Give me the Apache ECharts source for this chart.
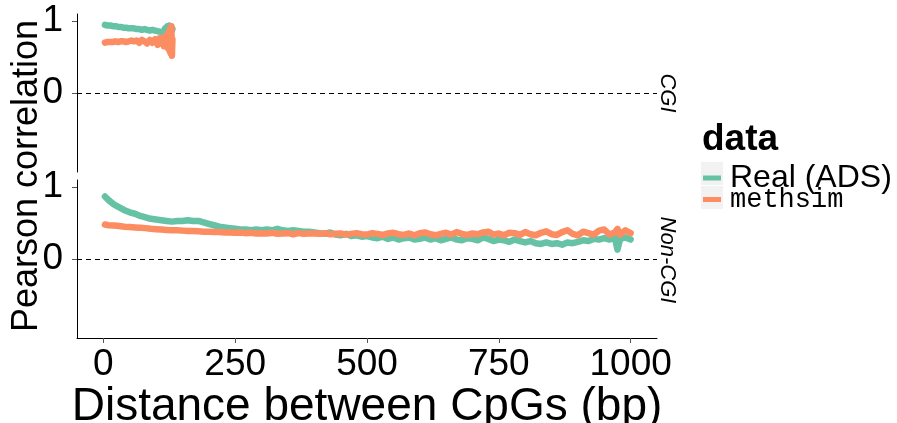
<!DOCTYPE html>
<html>
<head>
<meta charset="utf-8">
<script src="https://cdn.jsdelivr.net/npm/echarts@6/dist/echarts.min.js"></script>
<style>
html,body{margin:0;padding:0;background:#fff;}
#main{width:897px;height:423px;}
</style>
</head>
<body>
<div id="main"></div>
<script>
// CGI panel (top)
const cgiDist = [3,8,13,18,23,28,33,38,43,48,53,58,63,68,73,78,83,88,93,98,103,106,109,112,115,117,119,121,123,125,126,127,128,129,130,131];
const cgiReal = [0.95,0.94,0.94,0.93,0.93,0.92,0.92,0.91,0.91,0.90,0.90,0.90,0.89,0.89,0.88,0.89,0.88,0.87,0.88,0.87,0.86,0.88,0.85,0.87,0.84,0.90,0.86,0.93,0.88,0.94,0.90,0.93,0.88,0.92,0.87,0.89];
const cgiSim = [0.70,0.71,0.71,0.71,0.72,0.71,0.72,0.72,0.71,0.72,0.73,0.72,0.73,0.70,0.74,0.72,0.69,0.74,0.70,0.75,0.67,0.76,0.69,0.77,0.65,0.78,0.68,0.82,0.62,0.86,0.58,0.90,0.55,0.93,0.52,0.75];

// Non-CGI panel (bottom)
const nonDist = [3,10,20,30,40,50,60,70,80,90,100,110,120,130,140,150,160,170,180,190,200,210,220,230,240,250,260,270,280,290,300,310,320,330,340,350,360,370,380,390,400,410,420,430,440,450,460,470,480,490,500,510,520,530,540,550,560,570,580,590,600,610,620,630,640,650,660,670,680,690,700,710,720,730,740,750,760,770,780,790,800,810,820,830,840,850,860,870,880,890,900,910,920,930,940,950,960,970,975,980,990,1000];
const nonReal = [0.87,0.82,0.76,0.72,0.68,0.65,0.63,0.60,0.58,0.56,
    0.55,0.54,0.53,0.52,0.53,0.53,0.54,0.53,0.53,0.51,
    0.49,0.47,0.45,0.44,0.43,0.42,0.41,0.41,0.40,0.41,
    0.40,0.41,0.40,0.42,0.40,0.39,0.40,0.39,0.38,0.38,
    0.37,0.36,0.35,0.37,0.34,0.33,0.35,0.32,0.33,0.31,
    0.32,0.30,0.29,0.31,0.28,0.30,0.27,0.29,0.30,0.27,
    0.28,0.30,0.27,0.29,0.26,0.28,0.30,0.27,0.26,0.29,
    0.28,0.26,0.30,0.28,0.25,0.27,0.26,0.24,0.27,0.25,
    0.23,0.25,0.22,0.21,0.23,0.21,0.22,0.20,0.23,0.22,
    0.24,0.26,0.25,0.28,0.27,0.29,0.27,0.30,0.13,0.28,0.30,0.27];
const nonSim = [0.48,0.47,0.465,0.46,0.45,0.445,0.44,0.435,0.43,0.42,
    0.415,0.41,0.405,0.40,0.40,0.395,0.39,0.39,0.385,0.38,
    0.38,0.375,0.375,0.37,0.37,0.365,0.37,0.36,0.365,0.355,
    0.36,0.355,0.365,0.35,0.355,0.36,0.345,0.36,0.35,0.355,
    0.355,0.35,0.36,0.345,0.35,0.355,0.34,0.35,0.36,0.345,
    0.34,0.36,0.35,0.335,0.355,0.365,0.345,0.335,0.355,0.33,
    0.36,0.37,0.345,0.33,0.35,0.365,0.34,0.375,0.35,0.335,
    0.355,0.345,0.37,0.38,0.34,0.355,0.33,0.365,0.36,0.335,
    0.375,0.345,0.33,0.365,0.385,0.345,0.335,0.375,0.40,0.35,
    0.33,0.38,0.36,0.34,0.395,0.41,0.34,0.37,0.42,0.34,0.40,0.36];

const xTicks = [0,250,500,750,1000];
const yTicks = [0,1];

const green = '#66C2A5';
const orange = '#FC8D62';
const font = "'Liberation Sans', Arial, sans-serif";
const mono = "'Liberation Mono', 'Courier New', monospace";

const chart = echarts.init(document.getElementById('main'));

function pairs(xs, ys){ return xs.map((x,i)=>[x, ys[i]]); }

function yAxisFor(i){
    return {
        type:'value', gridIndex:i, min:-1.1, max:1.1,
        axisLine:{show:true, onZero:false, lineStyle:{color:'#000', width:1}},
        axisTick:{show:true, customValues:yTicks, length:5, lineStyle:{color:'#555'}},
        axisLabel:{show:true, customValues:yTicks, fontSize:37, color:'#000', fontFamily:font, margin:14},
        splitLine:{show:false}
    };
}

const zeroLine = {
    silent:true, symbol:['none','none'], label:{show:false},
    lineStyle:{color:'#000', type:[5,4], width:1.2},
    data:[{yAxis:0}]
};

function lineSeries(name, color, idx, data, withZero){
    const s = {
        name:name, type:'line', xAxisIndex:idx, yAxisIndex:idx,
        data:data, showSymbol:false, symbol:'none',
        color:color,
        lineStyle:{color:color, width:6.5, cap:'round', join:'round'}
    };
    if(withZero){ s.markLine = zeroLine; }
    return s;
}

function legendFor(name, top, size, family){
    return {
        orient:'vertical', left:703, top:top, padding:0, itemGap:0,
        itemWidth:18, itemHeight:5, icon:'rect',
        data:[name],
        textStyle:{fontSize:size, fontFamily:family, color:'#000', lineHeight:23, padding:[0,0,0,4]}
    };
}

chart.setOption({
    animation:false,
    textStyle:{fontFamily:font},
    grid:[
        {left:77, top:14, width:580, height:158, outerBoundsMode:'none', containLabel:false},
        {left:77, top:180, width:580, height:158, outerBoundsMode:'none', containLabel:false}
    ],
    xAxis:[
        {type:'value', gridIndex:0, min:-50, max:1050, show:false, splitLine:{show:false}},
        {type:'value', gridIndex:1, min:-50, max:1050,
         axisLine:{show:true, onZero:false, lineStyle:{color:'#000', width:1}},
         axisTick:{show:true, customValues:xTicks, length:5, lineStyle:{color:'#555'}},
         axisLabel:{show:true, customValues:xTicks, fontSize:37, color:'#000', fontFamily:font, margin:8,
                    formatter:function(v){ return String(v); }},
         splitLine:{show:false},
         name:'Distance between CpGs (bp)', nameLocation:'middle', nameGap:37,
         nameTextStyle:{fontSize:46, color:'#000', fontFamily:font}}
    ],
    yAxis:[yAxisFor(0), yAxisFor(1)],
    legend:[
        legendFor('Real (ADS)', 162, 32, font),
        legendFor('methsim', 186, 27, mono)
    ],
    graphic:[
        {type:'text', x:27, y:176, rotation:Math.PI/2,
         style:{text:'Pearson correlation', font:'36px ' + font, fill:'#000', align:'center', verticalAlign:'middle'}},
        {type:'text', x:667, y:93, rotation:-Math.PI/2,
         style:{text:'CGI', font:'italic 22px ' + font, fill:'#000', align:'center', verticalAlign:'middle'}},
        {type:'text', x:667, y:260, rotation:-Math.PI/2,
         style:{text:'Non-CGI', font:'italic 22px ' + font, fill:'#000', align:'center', verticalAlign:'middle'}},
        {type:'text', x:702, y:140,
         style:{text:'data', font:'bold 37px ' + font, fill:'#000', align:'left', verticalAlign:'middle'}},
        {type:'rect', shape:{x:701, y:162, width:22, height:23}, style:{fill:'#F2F2F2'}},
        {type:'rect', shape:{x:701, y:186, width:22, height:23}, style:{fill:'#F2F2F2'}}
    ],
    series:[
        lineSeries('Real (ADS)', green, 0, pairs(cgiDist, cgiReal), true),
        lineSeries('Real (ADS)', green, 1, pairs(nonDist, nonReal), true),
        lineSeries('methsim', orange, 0, pairs(cgiDist, cgiSim), false),
        lineSeries('methsim', orange, 1, pairs(nonDist, nonSim), false)
    ]
});
</script>
</body>
</html>
